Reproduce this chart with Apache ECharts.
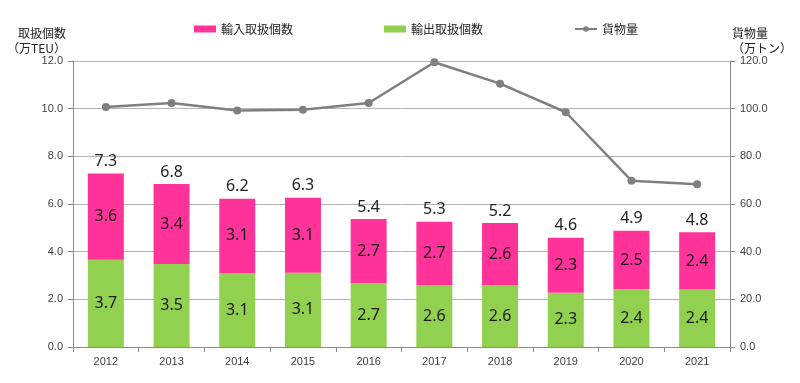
<!DOCTYPE html>
<html><head><meta charset="utf-8">
<script src="https://cdn.jsdelivr.net/npm/echarts@6/dist/echarts.min.js"></script>
<style>html,body{margin:0;padding:0;background:#fff}#c{width:800px;height:383px}</style>
</head><body><div id="c"></div>
<script>
var years = ['2012','2013','2014','2015','2016','2017','2018','2019','2020','2021'];
var exportTEU = [3.66, 3.48, 3.10, 3.12, 2.69, 2.60, 2.60, 2.28, 2.42, 2.41];
var importTEU = [3.62, 3.36, 3.12, 3.14, 2.68, 2.66, 2.60, 2.30, 2.46, 2.40];
var cargoTons = [100.7, 102.4, 99.2, 99.5, 102.4, 119.5, 110.5, 98.5, 69.8, 68.3];
var leftTicks = {min: 0, max: 12, interval: 2};
var rightTicks = {min: 0, max: 120, interval: 20};

var totals = exportTEU.map(function (v, i) { return v + importTEU[i]; });
var chart = echarts.init(document.getElementById('c'));
var tickFont = {fontFamily: 'Liberation Sans, Arial, sans-serif', fontSize: 11, color: '#404040'};
var cjk = 'Noto Sans CJK JP, sans-serif';
var gridCol = '#b4b4b4', axisCol = '#8a8a8a';
function fmt1(p) { return Number(p.value).toFixed(1); }
chart.setOption({
  animation: false,
  textStyle: {fontFamily: cjk},
  grid: {left: 73, right: 70, top: 61, bottom: 36},
  legend: {
    left: 189, top: 18, itemWidth: 22, itemHeight: 7, itemGap: 91,
    textStyle: {fontFamily: cjk, fontSize: 12, color: '#222'},
    data: [{name: '輸入取扱個数', icon: 'rect'}, {name: '輸出取扱個数', icon: 'rect'}, {name: '貨物量'}]
  },
  xAxis: {
    type: 'category', data: years,
    axisLine: {lineStyle: {color: axisCol}},
    axisTick: {show: true, length: 5, lineStyle: {color: axisCol}},
    axisLabel: Object.assign({margin: 9}, tickFont)
  },
  yAxis: [{
    type: 'value', min: leftTicks.min, max: leftTicks.max, interval: leftTicks.interval,
    name: '取扱個数\n（万TEU）', nameLocation: 'end', nameGap: 2,
    nameTextStyle: {align: 'right', fontFamily: cjk, fontSize: 12, lineHeight: 15, color: '#222', padding: [0, 7, 0, 0]},
    axisLine: {show: true, lineStyle: {color: axisCol}},
    axisTick: {show: true, length: 5, lineStyle: {color: axisCol}},
    splitLine: {lineStyle: {color: gridCol}},
    axisLabel: Object.assign({margin: 10, formatter: function (v) { return v.toFixed(1); }}, tickFont)
  }, {
    type: 'value', min: rightTicks.min, max: rightTicks.max, interval: rightTicks.interval,
    name: '貨物量\n（万トン）', nameLocation: 'end', nameGap: 2,
    nameTextStyle: {align: 'left', fontFamily: cjk, fontSize: 12, lineHeight: 15, color: '#222', padding: [0, 0, 0, 2]},
    axisLine: {show: true, lineStyle: {color: axisCol}},
    axisTick: {show: true, length: 5, lineStyle: {color: axisCol}},
    splitLine: {show: false},
    axisLabel: Object.assign({margin: 10, formatter: function (v) { return v.toFixed(1); }}, tickFont)
  }],
  series: [{
    name: '輸出取扱個数', type: 'bar', stack: 'teu', barWidth: 36, data: exportTEU,
    itemStyle: {color: '#92d050'},
    label: {show: true, position: 'inside', formatter: fmt1, fontFamily: 'Noto Sans, sans-serif', fontSize: 16, color: '#1a1a1a'}
  }, {
    name: '輸入取扱個数', type: 'bar', stack: 'teu', barWidth: 36, data: importTEU,
    itemStyle: {color: '#ff3399'},
    label: {show: true, position: 'inside', formatter: fmt1, fontFamily: 'Noto Sans, sans-serif', fontSize: 16, color: '#1a1a1a'}
  }, {
    name: '合計', type: 'bar', barWidth: 36, barGap: '-100%', data: totals,
    itemStyle: {color: 'rgba(0,0,0,0)'}, silent: true,
    label: {show: true, position: 'top', distance: 4, formatter: fmt1, fontFamily: 'Noto Sans, sans-serif', fontSize: 16, color: '#222'}
  }, {
    name: '貨物量', type: 'line', yAxisIndex: 1, data: cargoTons,
    symbol: 'circle', symbolSize: 8,
    lineStyle: {color: '#7f7f7f', width: 2.5},
    itemStyle: {color: '#7f7f7f'}
  }]
});
</script></body></html>
